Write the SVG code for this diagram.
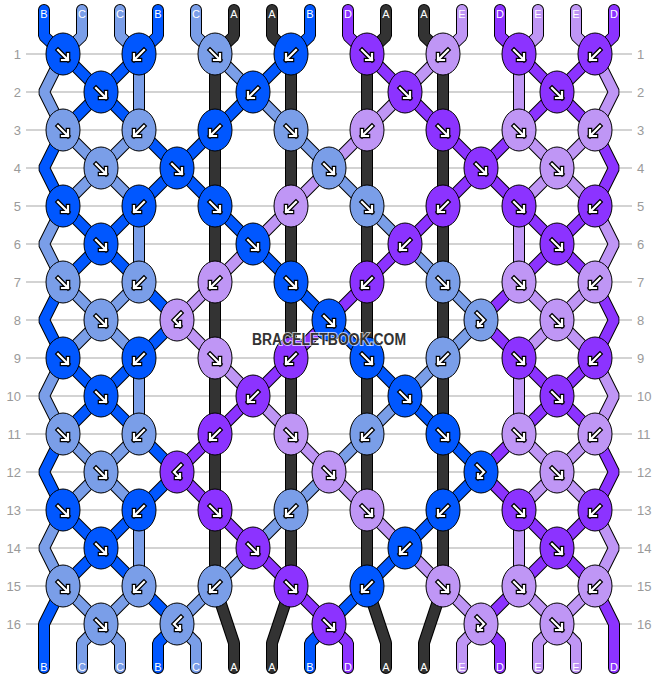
<svg xmlns="http://www.w3.org/2000/svg" xmlns:xlink="http://www.w3.org/1999/xlink" width="658" height="680" viewBox="0 0 658 680">
<style>
.grid line{stroke:#c4c4c4;stroke-width:1.5}
.num{font-family:"Liberation Sans",Arial,sans-serif;font-size:13px;fill:#9a9a9a}
.ol polyline{fill:none;stroke:#000;stroke-width:12;stroke-linejoin:bevel;stroke-linecap:round}
.cl polyline{fill:none;stroke-width:10;stroke-linejoin:bevel;stroke-linecap:round}
.sB{stroke:#0057ff}.sC{stroke:#7a9ee8}.sA{stroke:#333333}.sD{stroke:#8c33ff}.sE{stroke:#bf96f5}
.ao{fill:none;stroke:#000;stroke-width:4.6;stroke-linecap:square;stroke-linejoin:miter}
.ai{fill:none;stroke:#fff;stroke-width:2.2;stroke-linecap:square;stroke-linejoin:miter}
.lab{font-family:"Liberation Sans",Arial,sans-serif;font-size:11px;fill:#fff;text-anchor:middle}
.wm{font-family:"Liberation Sans",Arial,sans-serif;font-weight:bold;font-size:16px;fill:#333;text-anchor:middle;stroke:#fff;stroke-width:2;paint-order:stroke;stroke-opacity:0.7}
</style>
<defs>
<ellipse id="eB" rx="17" ry="21" fill="#0057ff" stroke="#000" stroke-width="1"/>
<ellipse id="eC" rx="17" ry="21" fill="#7a9ee8" stroke="#000" stroke-width="1"/>
<ellipse id="eD" rx="17" ry="21" fill="#8c33ff" stroke="#000" stroke-width="1"/>
<ellipse id="eE" rx="17" ry="21" fill="#bf96f5" stroke="#000" stroke-width="1"/>
<g id="f"><path class="ao" d="M-5,-4 L5,6 M-1,6 L5,6 L5,0"/><path class="ai" d="M-5,-4 L5,6 M-1,6 L5,6 L5,0"/></g>
<g id="b"><use href="#f" transform="scale(-1,1)"/></g>
<g id="fb"><path class="ao" d="M-4,-7 L3,0 L-3,6 M-3,2 L-3,6 L1,6"/><path class="ai" d="M-4,-7 L3,0 L-3,6 M-3,2 L-3,6 L1,6"/></g>
<g id="bf"><use href="#fb" transform="scale(-1,1)"/></g>
</defs>
<rect width="658" height="680" fill="#fff"/>
<g class="grid">
<line x1="26" y1="54" x2="632" y2="54"/><line x1="26" y1="92" x2="632" y2="92"/><line x1="26" y1="130" x2="632" y2="130"/><line x1="26" y1="168" x2="632" y2="168"/>
<line x1="26" y1="206" x2="632" y2="206"/><line x1="26" y1="244" x2="632" y2="244"/><line x1="26" y1="282" x2="632" y2="282"/><line x1="26" y1="320" x2="632" y2="320"/>
<line x1="26" y1="358" x2="632" y2="358"/><line x1="26" y1="396" x2="632" y2="396"/><line x1="26" y1="434" x2="632" y2="434"/><line x1="26" y1="472" x2="632" y2="472"/>
<line x1="26" y1="510" x2="632" y2="510"/><line x1="26" y1="548" x2="632" y2="548"/><line x1="26" y1="586" x2="632" y2="586"/><line x1="26" y1="624" x2="632" y2="624"/>
</g>
<g class="num" text-anchor="end">
<text x="21" y="59">1</text><text x="21" y="97">2</text><text x="21" y="135">3</text><text x="21" y="173">4</text><text x="21" y="211">5</text><text x="21" y="249">6</text><text x="21" y="287">7</text><text x="21" y="325">8</text>
<text x="21" y="363">9</text><text x="21" y="401">10</text><text x="21" y="439">11</text><text x="21" y="477">12</text><text x="21" y="515">13</text><text x="21" y="553">14</text><text x="21" y="591">15</text><text x="21" y="629">16</text>
</g>
<g class="num">
<text x="637" y="59">1</text><text x="637" y="97">2</text><text x="637" y="135">3</text><text x="637" y="173">4</text><text x="637" y="211">5</text><text x="637" y="249">6</text><text x="637" y="287">7</text><text x="637" y="325">8</text>
<text x="637" y="363">9</text><text x="637" y="401">10</text><text x="637" y="439">11</text><text x="637" y="477">12</text><text x="637" y="515">13</text><text x="637" y="553">14</text><text x="637" y="591">15</text><text x="637" y="629">16</text>
</g>
<g id="connectors">
<g class="ol">
<polyline points="44,10 44,36 63,54 101,92 139,130 177,168 215,206 253,244 291,282 329,320 367,358 405,396 443,434 481,472 443,510 405,548 367,586 329,624 310,643 310,668"/>
<polyline points="82,10 82,36 63,54 44,92 63,130 101,168 139,206 139,282 101,320 63,358 44,396 63,434 101,472 139,510 139,586 101,624 82,643 82,668"/>
<polyline points="120,10 120,36 139,54 139,130 101,168 63,206 44,244 63,282 101,320 139,358 139,434 101,472 63,510 44,548 63,586 101,624 120,643 120,668"/>
<polyline points="158,10 158,36 139,54 101,92 63,130 44,168 63,206 101,244 139,282 177,320 139,358 101,396 63,434 44,472 63,510 101,548 139,586 177,624 158,643 158,668"/>
<polyline points="196,10 196,36 215,54 253,92 291,130 329,168 367,206 405,244 443,282 481,320 443,358 405,396 367,434 329,472 291,510 253,548 215,586 177,624 196,643 196,668"/>
<polyline points="234,10 234,36 215,54 215,586 234,643 234,668"/>
<polyline points="272,10 272,36 291,54 291,586 272,643 272,668"/>
<polyline points="310,10 310,36 291,54 253,92 215,130 177,168 139,206 101,244 63,282 44,320 63,358 101,396 139,434 177,472 139,510 101,548 63,586 44,624 44,668"/>
<polyline points="348,10 348,36 367,54 405,92 443,130 481,168 519,206 557,244 595,282 614,320 595,358 557,396 519,434 481,472 519,510 557,548 595,586 614,624 614,668"/>
<polyline points="386,10 386,36 367,54 367,586 386,643 386,668"/>
<polyline points="424,10 424,36 443,54 443,586 424,643 424,668"/>
<polyline points="462,10 462,36 443,54 405,92 367,130 329,168 291,206 253,244 215,282 177,320 215,358 253,396 291,434 329,472 367,510 405,548 443,586 481,624 462,643 462,668"/>
<polyline points="500,10 500,36 519,54 557,92 595,130 614,168 595,206 557,244 519,282 481,320 519,358 557,396 595,434 614,472 595,510 557,548 519,586 481,624 500,643 500,668"/>
<polyline points="538,10 538,36 519,54 519,130 557,168 595,206 614,244 595,282 557,320 519,358 519,434 557,472 595,510 614,548 595,586 557,624 538,643 538,668"/>
<polyline points="576,10 576,36 595,54 614,92 595,130 557,168 519,206 519,282 557,320 595,358 614,396 595,434 557,472 519,510 519,586 557,624 576,643 576,668"/>
<polyline points="614,10 614,36 595,54 557,92 519,130 481,168 443,206 405,244 367,282 329,320 291,358 253,396 215,434 177,472 215,510 253,548 291,586 329,624 348,643 348,668"/>
</g>
<g class="cl">
<polyline class="sB" points="44,10 44,36 63,54 101,92 139,130 177,168 215,206 253,244 291,282 329,320 367,358 405,396 443,434 481,472 443,510 405,548 367,586 329,624 310,643 310,668"/>
<polyline class="sC" points="82,10 82,36 63,54 44,92 63,130 101,168 139,206 139,282 101,320 63,358 44,396 63,434 101,472 139,510 139,586 101,624 82,643 82,668"/>
<polyline class="sC" points="120,10 120,36 139,54 139,130 101,168 63,206 44,244 63,282 101,320 139,358 139,434 101,472 63,510 44,548 63,586 101,624 120,643 120,668"/>
<polyline class="sB" points="158,10 158,36 139,54 101,92 63,130 44,168 63,206 101,244 139,282 177,320 139,358 101,396 63,434 44,472 63,510 101,548 139,586 177,624 158,643 158,668"/>
<polyline class="sC" points="196,10 196,36 215,54 253,92 291,130 329,168 367,206 405,244 443,282 481,320 443,358 405,396 367,434 329,472 291,510 253,548 215,586 177,624 196,643 196,668"/>
<polyline class="sA" points="234,10 234,36 215,54 215,586 234,643 234,668"/>
<polyline class="sA" points="272,10 272,36 291,54 291,586 272,643 272,668"/>
<polyline class="sB" points="310,10 310,36 291,54 253,92 215,130 177,168 139,206 101,244 63,282 44,320 63,358 101,396 139,434 177,472 139,510 101,548 63,586 44,624 44,668"/>
<polyline class="sD" points="348,10 348,36 367,54 405,92 443,130 481,168 519,206 557,244 595,282 614,320 595,358 557,396 519,434 481,472 519,510 557,548 595,586 614,624 614,668"/>
<polyline class="sA" points="386,10 386,36 367,54 367,586 386,643 386,668"/>
<polyline class="sA" points="424,10 424,36 443,54 443,586 424,643 424,668"/>
<polyline class="sE" points="462,10 462,36 443,54 405,92 367,130 329,168 291,206 253,244 215,282 177,320 215,358 253,396 291,434 329,472 367,510 405,548 443,586 481,624 462,643 462,668"/>
<polyline class="sD" points="500,10 500,36 519,54 557,92 595,130 614,168 595,206 557,244 519,282 481,320 519,358 557,396 595,434 614,472 595,510 557,548 519,586 481,624 500,643 500,668"/>
<polyline class="sE" points="538,10 538,36 519,54 519,130 557,168 595,206 614,244 595,282 557,320 519,358 519,434 557,472 595,510 614,548 595,586 557,624 538,643 538,668"/>
<polyline class="sE" points="576,10 576,36 595,54 614,92 595,130 557,168 519,206 519,282 557,320 595,358 614,396 595,434 557,472 519,510 519,586 557,624 576,643 576,668"/>
<polyline class="sD" points="614,10 614,36 595,54 557,92 519,130 481,168 443,206 405,244 367,282 329,320 291,358 253,396 215,434 177,472 215,510 253,548 291,586 329,624 348,643 348,668"/>
</g>
</g>
<g id="knots">
<g id="k1-1" transform="translate(63,54)"><use href="#eB"/><use href="#f"/></g>
<g id="k1-2" transform="translate(139,54)"><use href="#eB"/><use href="#b"/></g>
<g id="k1-3" transform="translate(215,54)"><use href="#eC"/><use href="#f"/></g>
<g id="k1-4" transform="translate(291,54)"><use href="#eB"/><use href="#b"/></g>
<g id="k1-5" transform="translate(367,54)"><use href="#eD"/><use href="#f"/></g>
<g id="k1-6" transform="translate(443,54)"><use href="#eE"/><use href="#b"/></g>
<g id="k1-7" transform="translate(519,54)"><use href="#eD"/><use href="#f"/></g>
<g id="k1-8" transform="translate(595,54)"><use href="#eD"/><use href="#b"/></g>
<g id="k2-1" transform="translate(101,92)"><use href="#eB"/><use href="#f"/></g>
<g id="k2-3" transform="translate(253,92)"><use href="#eB"/><use href="#b"/></g>
<g id="k2-5" transform="translate(405,92)"><use href="#eD"/><use href="#f"/></g>
<g id="k2-7" transform="translate(557,92)"><use href="#eD"/><use href="#f"/></g>
<g id="k3-1" transform="translate(63,130)"><use href="#eC"/><use href="#f"/></g>
<g id="k3-2" transform="translate(139,130)"><use href="#eC"/><use href="#b"/></g>
<g id="k3-3" transform="translate(215,130)"><use href="#eB"/><use href="#b"/></g>
<g id="k3-4" transform="translate(291,130)"><use href="#eC"/><use href="#f"/></g>
<g id="k3-5" transform="translate(367,130)"><use href="#eE"/><use href="#b"/></g>
<g id="k3-6" transform="translate(443,130)"><use href="#eD"/><use href="#f"/></g>
<g id="k3-7" transform="translate(519,130)"><use href="#eE"/><use href="#f"/></g>
<g id="k3-8" transform="translate(595,130)"><use href="#eE"/><use href="#b"/></g>
<g id="k4-1" transform="translate(101,168)"><use href="#eC"/><use href="#f"/></g>
<g id="k4-2" transform="translate(177,168)"><use href="#eB"/><use href="#f"/></g>
<g id="k4-4" transform="translate(329,168)"><use href="#eC"/><use href="#f"/></g>
<g id="k4-6" transform="translate(481,168)"><use href="#eD"/><use href="#f"/></g>
<g id="k4-7" transform="translate(557,168)"><use href="#eE"/><use href="#f"/></g>
<g id="k5-1" transform="translate(63,206)"><use href="#eB"/><use href="#f"/></g>
<g id="k5-2" transform="translate(139,206)"><use href="#eB"/><use href="#b"/></g>
<g id="k5-3" transform="translate(215,206)"><use href="#eB"/><use href="#f"/></g>
<g id="k5-4" transform="translate(291,206)"><use href="#eE"/><use href="#b"/></g>
<g id="k5-5" transform="translate(367,206)"><use href="#eC"/><use href="#f"/></g>
<g id="k5-6" transform="translate(443,206)"><use href="#eD"/><use href="#b"/></g>
<g id="k5-7" transform="translate(519,206)"><use href="#eD"/><use href="#f"/></g>
<g id="k5-8" transform="translate(595,206)"><use href="#eD"/><use href="#b"/></g>
<g id="k6-1" transform="translate(101,244)"><use href="#eB"/><use href="#f"/></g>
<g id="k6-3" transform="translate(253,244)"><use href="#eB"/><use href="#f"/></g>
<g id="k6-5" transform="translate(405,244)"><use href="#eD"/><use href="#b"/></g>
<g id="k6-7" transform="translate(557,244)"><use href="#eD"/><use href="#f"/></g>
<g id="k7-1" transform="translate(63,282)"><use href="#eC"/><use href="#f"/></g>
<g id="k7-2" transform="translate(139,282)"><use href="#eC"/><use href="#b"/></g>
<g id="k7-3" transform="translate(215,282)"><use href="#eE"/><use href="#b"/></g>
<g id="k7-4" transform="translate(291,282)"><use href="#eB"/><use href="#f"/></g>
<g id="k7-5" transform="translate(367,282)"><use href="#eD"/><use href="#b"/></g>
<g id="k7-6" transform="translate(443,282)"><use href="#eC"/><use href="#f"/></g>
<g id="k7-7" transform="translate(519,282)"><use href="#eE"/><use href="#f"/></g>
<g id="k7-8" transform="translate(595,282)"><use href="#eE"/><use href="#b"/></g>
<g id="k8-1" transform="translate(101,320)"><use href="#eC"/><use href="#f"/></g>
<g id="k8-2" transform="translate(177,320)"><use href="#eE"/><use href="#bf"/></g>
<g id="k8-4" transform="translate(329,320)"><use href="#eB"/><use href="#f"/></g>
<g id="k8-6" transform="translate(481,320)"><use href="#eC"/><use href="#fb"/></g>
<g id="k8-7" transform="translate(557,320)"><use href="#eE"/><use href="#f"/></g>
<g id="k9-1" transform="translate(63,358)"><use href="#eB"/><use href="#f"/></g>
<g id="k9-2" transform="translate(139,358)"><use href="#eB"/><use href="#b"/></g>
<g id="k9-3" transform="translate(215,358)"><use href="#eE"/><use href="#f"/></g>
<g id="k9-4" transform="translate(291,358)"><use href="#eD"/><use href="#b"/></g>
<g id="k9-5" transform="translate(367,358)"><use href="#eB"/><use href="#f"/></g>
<g id="k9-6" transform="translate(443,358)"><use href="#eC"/><use href="#b"/></g>
<g id="k9-7" transform="translate(519,358)"><use href="#eD"/><use href="#f"/></g>
<g id="k9-8" transform="translate(595,358)"><use href="#eD"/><use href="#b"/></g>
<g id="k10-1" transform="translate(101,396)"><use href="#eB"/><use href="#f"/></g>
<g id="k10-3" transform="translate(253,396)"><use href="#eD"/><use href="#b"/></g>
<g id="k10-5" transform="translate(405,396)"><use href="#eB"/><use href="#f"/></g>
<g id="k10-7" transform="translate(557,396)"><use href="#eD"/><use href="#f"/></g>
<g id="k11-1" transform="translate(63,434)"><use href="#eC"/><use href="#f"/></g>
<g id="k11-2" transform="translate(139,434)"><use href="#eC"/><use href="#b"/></g>
<g id="k11-3" transform="translate(215,434)"><use href="#eD"/><use href="#b"/></g>
<g id="k11-4" transform="translate(291,434)"><use href="#eE"/><use href="#f"/></g>
<g id="k11-5" transform="translate(367,434)"><use href="#eC"/><use href="#b"/></g>
<g id="k11-6" transform="translate(443,434)"><use href="#eB"/><use href="#f"/></g>
<g id="k11-7" transform="translate(519,434)"><use href="#eE"/><use href="#f"/></g>
<g id="k11-8" transform="translate(595,434)"><use href="#eE"/><use href="#b"/></g>
<g id="k12-1" transform="translate(101,472)"><use href="#eC"/><use href="#f"/></g>
<g id="k12-2" transform="translate(177,472)"><use href="#eD"/><use href="#bf"/></g>
<g id="k12-4" transform="translate(329,472)"><use href="#eE"/><use href="#f"/></g>
<g id="k12-6" transform="translate(481,472)"><use href="#eB"/><use href="#fb"/></g>
<g id="k12-7" transform="translate(557,472)"><use href="#eE"/><use href="#f"/></g>
<g id="k13-1" transform="translate(63,510)"><use href="#eB"/><use href="#f"/></g>
<g id="k13-2" transform="translate(139,510)"><use href="#eB"/><use href="#b"/></g>
<g id="k13-3" transform="translate(215,510)"><use href="#eD"/><use href="#f"/></g>
<g id="k13-4" transform="translate(291,510)"><use href="#eC"/><use href="#b"/></g>
<g id="k13-5" transform="translate(367,510)"><use href="#eE"/><use href="#f"/></g>
<g id="k13-6" transform="translate(443,510)"><use href="#eB"/><use href="#b"/></g>
<g id="k13-7" transform="translate(519,510)"><use href="#eD"/><use href="#f"/></g>
<g id="k13-8" transform="translate(595,510)"><use href="#eD"/><use href="#b"/></g>
<g id="k14-1" transform="translate(101,548)"><use href="#eB"/><use href="#f"/></g>
<g id="k14-3" transform="translate(253,548)"><use href="#eD"/><use href="#f"/></g>
<g id="k14-5" transform="translate(405,548)"><use href="#eB"/><use href="#b"/></g>
<g id="k14-7" transform="translate(557,548)"><use href="#eD"/><use href="#f"/></g>
<g id="k15-1" transform="translate(63,586)"><use href="#eC"/><use href="#f"/></g>
<g id="k15-2" transform="translate(139,586)"><use href="#eC"/><use href="#b"/></g>
<g id="k15-3" transform="translate(215,586)"><use href="#eC"/><use href="#b"/></g>
<g id="k15-4" transform="translate(291,586)"><use href="#eD"/><use href="#f"/></g>
<g id="k15-5" transform="translate(367,586)"><use href="#eB"/><use href="#b"/></g>
<g id="k15-6" transform="translate(443,586)"><use href="#eE"/><use href="#f"/></g>
<g id="k15-7" transform="translate(519,586)"><use href="#eE"/><use href="#f"/></g>
<g id="k15-8" transform="translate(595,586)"><use href="#eE"/><use href="#b"/></g>
<g id="k16-1" transform="translate(101,624)"><use href="#eC"/><use href="#f"/></g>
<g id="k16-2" transform="translate(177,624)"><use href="#eC"/><use href="#bf"/></g>
<g id="k16-4" transform="translate(329,624)"><use href="#eD"/><use href="#f"/></g>
<g id="k16-6" transform="translate(481,624)"><use href="#eE"/><use href="#fb"/></g>
<g id="k16-7" transform="translate(557,624)"><use href="#eE"/><use href="#f"/></g>
</g>
<g class="lab">
<text x="44" y="18">B</text><text x="82" y="18">C</text><text x="120" y="18">C</text><text x="158" y="18">B</text><text x="196" y="18">C</text><text x="234" y="18">A</text><text x="272" y="18">A</text><text x="310" y="18">B</text>
<text x="348" y="18">D</text><text x="386" y="18">A</text><text x="424" y="18">A</text><text x="462" y="18">E</text><text x="500" y="18">D</text><text x="538" y="18">E</text><text x="576" y="18">E</text><text x="614" y="18">D</text>
<text x="44" y="671">B</text><text x="82" y="671">C</text><text x="120" y="671">C</text><text x="158" y="671">B</text><text x="196" y="671">C</text><text x="234" y="671">A</text><text x="272" y="671">A</text><text x="310" y="671">B</text>
<text x="348" y="671">D</text><text x="386" y="671">A</text><text x="424" y="671">A</text><text x="462" y="671">E</text><text x="500" y="671">D</text><text x="538" y="671">E</text><text x="576" y="671">E</text><text x="614" y="671">D</text>
</g>
<text class="wm" x="329" y="345" textLength="154" lengthAdjust="spacingAndGlyphs">BRACELETBOOK.COM</text>
</svg>
